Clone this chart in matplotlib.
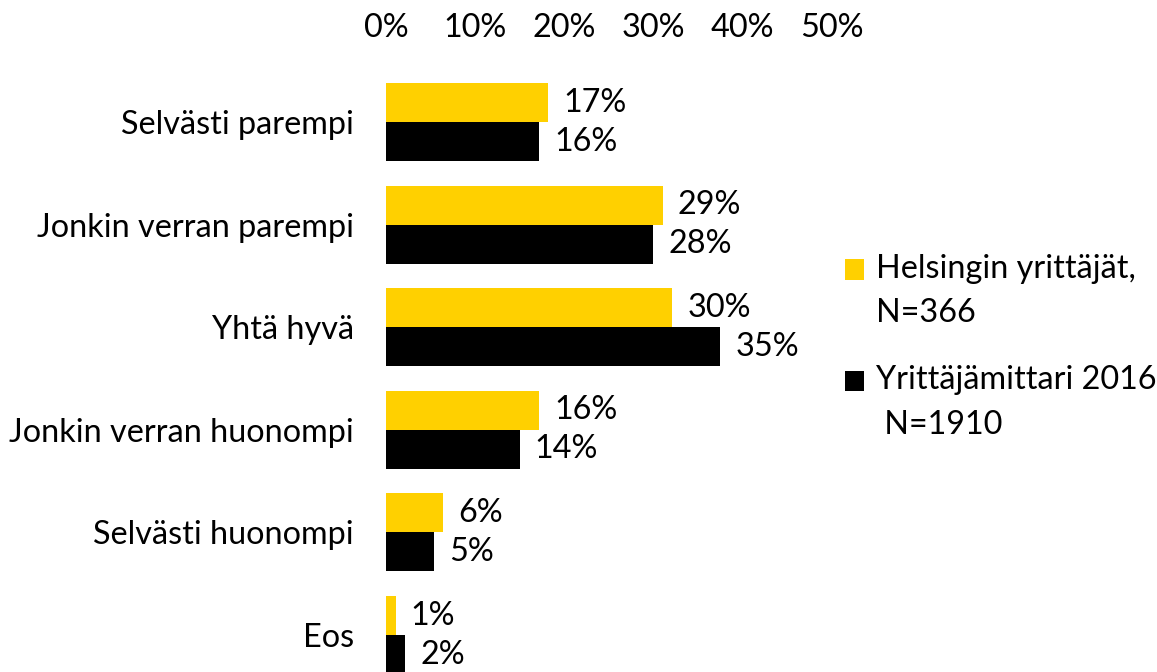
import matplotlib
matplotlib.use("Agg")
import matplotlib.pyplot as plt
from matplotlib.patches import Patch, Rectangle
from matplotlib.legend_handler import HandlerPatch

plt.rcParams["font.family"] = ["Lato", "DejaVu Sans"]

categories = [
    "Selvästi parempi",
    "Jonkin verran parempi",
    "Yhtä hyvä",
    "Jonkin verran huonompi",
    "Selvästi huonompi",
    "Eos",
]
helsinki = [17, 29, 30, 16, 6, 1]
mittari = [16, 28, 35, 14, 5, 2]
series_names = ["Helsingin yrittäjät,\nN=366", "Yrittäjämittari 2016\n N=1910"]
tick_values = [0, 10, 20, 30, 40, 50]

YELLOW = "#FFD000"
BLACK = "#000000"
FS = 23.3

W, H = 1157, 672
fig = plt.figure(figsize=(W / 100, H / 100), dpi=100)

# bars: 0% at x=386px, ~9.54 px per percent; group pitch ~102.5 px
left_px, right_px = 386, 900
ax = fig.add_axes([left_px / W, 0, (right_px - left_px) / W, 1 - 70.7 / H])
ax.set_xlim(0, (right_px - left_px) / 9.54)
ax.set_ylim(5.36, -0.5)

pos = list(range(len(categories)))
bh = 0.38
b1 = ax.barh([p - bh / 2 for p in pos], helsinki, height=bh, color=YELLOW)
b2 = ax.barh([p + bh / 2 for p in pos], mittari, height=bh, color=BLACK)
ax.bar_label(b1, labels=[f"{v}%" for v in helsinki], padding=11, fontsize=FS)
ax.bar_label(b2, labels=[f"{v}%" for v in mittari], padding=11, fontsize=FS)

ax.set_yticks(pos)
ax.set_yticklabels(categories, fontsize=FS)
ax.tick_params(axis="y", length=0, pad=23)
ax.set_xticks([])
for s in ax.spines.values():
    s.set_visible(False)

# top percentage axis (its own spacing, as in the original)
top = ax.twiny()
top.set_xlim(0, (right_px - left_px) / 8.92)
top.set_xticks(tick_values)
top.set_xticklabels([f"{v}%" for v in tick_values], fontsize=FS)
top.tick_params(axis="x", length=0, pad=20)
for s in top.spines.values():
    s.set_visible(False)

LS = 1.6
SHIFT = 16.0  # points: square sits beside the first label line


def top_square(legend, orig_handle, xdescent, ydescent, width, height, fontsize):
    return Rectangle((-xdescent, -ydescent + SHIFT), width, height)


handles = [Patch(facecolor=YELLOW), Patch(facecolor=BLACK)]
leg = fig.legend(
    handles, series_names,
    loc="upper left", bbox_to_anchor=(845 / W, 1 - 254 / H),
    frameon=False, fontsize=FS, borderpad=0, borderaxespad=0,
    handlelength=0.6, handleheight=0.6, handletextpad=0.35,
    labelspacing=1.14,
    handler_map={Patch: HandlerPatch(patch_func=top_square)},
)
for t in leg.get_texts():
    t.set_linespacing(LS)
    t.set_multialignment("left")

fig.savefig("out.png", dpi=100)
